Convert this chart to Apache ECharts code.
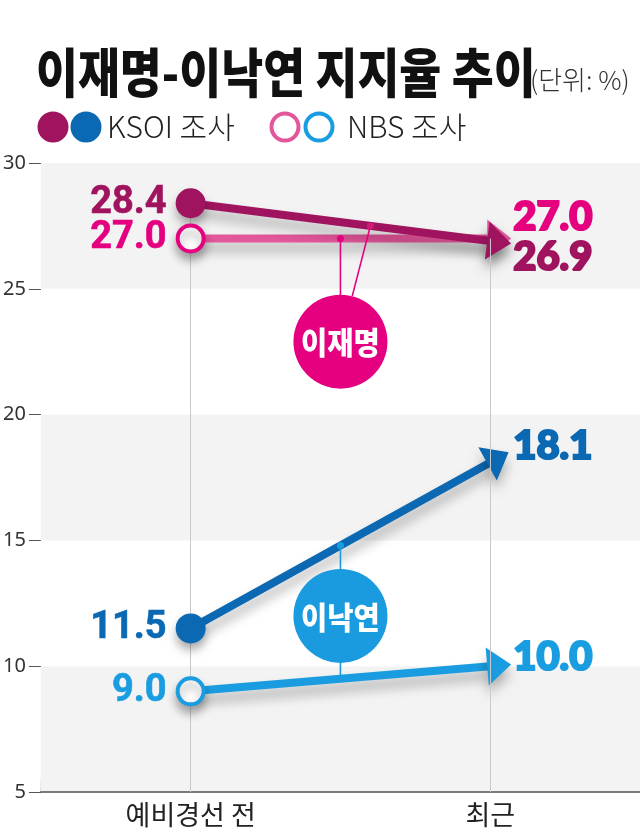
<!DOCTYPE html>
<html>
<head>
<meta charset="utf-8">
<script src="https://cdn.jsdelivr.net/npm/echarts@6/dist/echarts.min.js"></script>
<style>
html,body{margin:0;padding:0;background:#fff;}
#chart{width:640px;height:834px;}
</style>
</head>
<body>
<div id="chart"></div>
<script>
// ---- data ----
const categories = ['예비경선 전', '최근'];
const leeJM_KSOI = [28.4, 26.9];
const leeJM_NBS = [27.0, 27.0];
const leeNY_KSOI = [11.5, 18.1];
const leeNY_NBS = [9.0, 10.0];
const yTicks = [5, 10, 15, 20, 25, 30];
const candidateNames = ['이재명', '이낙연'];
const titleText = '이재명-이낙연 지지율 추이';
const unitText = '(단위: %)';
const legendNames = ['KSOI 조사', 'NBS 조사'];

// ---- styles ----
const C = {
  jmK: '#a0135f', jmN: '#e4007f', jmNLine: '#e2569a',
  nyK: '#0b68b3', nyN: '#1a9de0',
  bubbleJM: '#e4007f', bubbleNY: '#1a9be0'
};
const CJK = '"Noto Sans CJK KR", "Noto Sans", sans-serif';

const chart = echarts.init(document.getElementById('chart'), null, {renderer: 'canvas'});

const shadow = {shadowColor: 'rgba(0,0,0,0.28)', shadowBlur: 12, shadowOffsetY: 9};

function arrowSeries(name, arr, color, width) {
  return {
    type: 'custom', name: name, z: 3,
    coordinateSystem: 'cartesian2d',
    encode: {x: [0, 2], y: [1, 3]},
    data: [[0, arr[0], 1, arr[1]]],
    renderItem: function (params, api) {
      const p0 = api.coord([api.value(0), api.value(1)]);
      const p1 = api.coord([api.value(2), api.value(3)]);
      const dx = p1[0] - p0[0], dy = p1[1] - p0[1];
      const L = Math.sqrt(dx * dx + dy * dy);
      const ux = dx / L, uy = dy / L, nx = -uy, ny = ux;
      const tipLen = 21, half = 19;
      const tip = [p1[0] + ux * tipLen, p1[1] + uy * tipLen];
      const b1 = [p1[0] - ux * 3 + nx * half, p1[1] - uy * 3 + ny * half];
      const b2 = [p1[0] - ux * 3 - nx * half, p1[1] - uy * 3 - ny * half];
      return {
        type: 'group',
        children: [
          {type: 'line', shape: {x1: p0[0], y1: p0[1], x2: p1[0], y2: p1[1]},
           style: Object.assign({stroke: color, lineWidth: width}, shadow)},
          {type: 'polygon', shape: {points: [tip, b1, b2]},
           style: Object.assign({fill: color}, shadow)}
        ]
      };
    }
  };
}

function startSeries(name, arr, color, filled) {
  return {
    type: 'scatter', name: name, z: 5,
    data: [[0, arr[0]]],
    symbol: 'circle',
    symbolSize: filled ? 30 : 26,
    itemStyle: {
      opacity: 1,
      color: filled ? color : '#ffffff',
      borderColor: color, borderWidth: filled ? 0 : 4,
      shadowColor: 'rgba(0,0,0,0.3)', shadowBlur: 10, shadowOffsetY: 7
    },
    label: {
      show: true, position: 'left', distance: 9,
      formatter: p => p.value[1].toFixed(1),
      fontFamily: 'Roboto, "Noto Sans", sans-serif', fontWeight: 'bold',
      fontSize: 38, color: color, opacity: 1,
      textBorderColor: color, textBorderWidth: 0.6
    }
  };
}

function endSeries(name, arr, color, offY, extra) {
  return Object.assign({
    type: 'scatter', name: name, z: 1,
    data: [[1, arr[1]]],
    symbolSize: 0,
    itemStyle: {opacity: 1},
    label: {
      show: true, position: 'right', distance: 23, offset: [0, offY],
      formatter: p => p.value[1].toFixed(1),
      fontFamily: 'Lato, "DejaVu Sans", sans-serif', fontWeight: 900,
      fontSize: 40, color: color, opacity: 1,
      textBorderColor: color, textBorderWidth: 2.2
    }
  }, extra || {});
}

const startTop = Math.max(leeJM_KSOI[0], leeJM_NBS[0], leeNY_KSOI[0], leeNY_NBS[0]);
const endTop = Math.max(leeJM_KSOI[1], leeJM_NBS[1], leeNY_KSOI[1], leeNY_NBS[1]);

const annotationSeries = {
  type: 'custom', z: 4,
  coordinateSystem: 'cartesian2d',
  data: [[0, 0]],
  renderItem: function (params, api) {
    const lerp = (arr, t) => {
      const a = api.coord([0, arr[0]]), b = api.coord([1, arr[1]]);
      return [a[0] + (b[0] - a[0]) * t, a[1] + (b[1] - a[1]) * t];
    };
    const mid = lerp(leeJM_NBS, 0.5);
    const xm = mid[0];
    const R = 47;
    const cJM = [xm, api.coord([0, 22.9])[1]];
    const jmNpt = lerp(leeJM_NBS, 0.5);
    const jmKpt = lerp(leeJM_KSOI, 0.6);
    const vx = jmKpt[0] - cJM[0], vy = jmKpt[1] - cJM[1], vl = Math.sqrt(vx * vx + vy * vy);
    const edge = [cJM[0] + vx / vl * R, cJM[1] + vy / vl * R];
    const cNY = [xm, api.coord([0, 12.0])[1]];
    const nyKpt = lerp(leeNY_KSOI, 0.5);
    const nyNpt = lerp(leeNY_NBS, 0.5);
    const textEl = (t, c) => ({type: 'text', x: c[0], y: c[1] + 1, scaleX: 0.92,
      style: {text: t, fill: '#fff', fontFamily: CJK, fontWeight: 900, fontSize: 31,
              textAlign: 'center', textVerticalAlign: 'middle'}});
    return {
      type: 'group',
      children: [
        {type: 'line', shape: {x1: xm, y1: jmNpt[1], x2: xm, y2: cJM[1]}, style: {stroke: C.bubbleJM, lineWidth: 1.6}},
        {type: 'line', shape: {x1: edge[0], y1: edge[1], x2: jmKpt[0], y2: jmKpt[1]}, style: {stroke: C.bubbleJM, lineWidth: 1.6}},
        {type: 'circle', shape: {cx: jmNpt[0], cy: jmNpt[1], r: 3.5}, style: {fill: C.bubbleJM}},
        {type: 'circle', shape: {cx: jmKpt[0], cy: jmKpt[1], r: 3.5}, style: {fill: '#d11a78'}},
        {type: 'circle', shape: {cx: cJM[0], cy: cJM[1], r: R}, style: {fill: C.bubbleJM}},
        textEl(candidateNames[0], cJM),
        {type: 'line', shape: {x1: xm, y1: nyKpt[1], x2: xm, y2: nyNpt[1]}, style: {stroke: C.bubbleNY, lineWidth: 1.6}},
        {type: 'circle', shape: {cx: nyKpt[0], cy: nyKpt[1], r: 3.5}, style: {fill: C.bubbleNY}},
        {type: 'circle', shape: {cx: cNY[0], cy: cNY[1], r: R}, style: {fill: C.bubbleNY}},
        textEl(candidateNames[1], cNY)
      ]
    };
  }
};

const option = {
  animation: false,
  backgroundColor: '#ffffff',
  grid: {left: 40, right: 0, top: 163, bottom: 42},
  xAxis: {
    type: 'category', data: categories, boundaryGap: true,
    axisLine: {show: true, lineStyle: {color: '#7a7a7a', width: 2}},
    axisTick: {show: false},
    splitLine: {show: false},
    axisLabel: {fontFamily: CJK, fontSize: 27, color: '#222', margin: 9}
  },
  yAxis: {
    type: 'value', min: yTicks[0], max: yTicks[yTicks.length - 1], interval: yTicks[1] - yTicks[0],
    axisLine: {show: false},
    axisTick: {show: true, length: 12, lineStyle: {color: '#555', width: 1}},
    splitLine: {show: false},
    splitArea: {show: true, areaStyle: {color: ['#f3f3f3', '#ffffff']}},
    axisLabel: {fontFamily: '"Noto Sans", sans-serif', fontSize: 20, color: '#333', margin: 15,
                padding: [0, 0, 6, 0]}
  },
  graphic: [
    {type: 'rect', x: 40, y: 774, z: 0, silent: true,
     shape: {width: 600, height: 17},
     style: {fill: new echarts.graphic.LinearGradient(0, 0, 0, 1, [
       {offset: 0, color: 'rgba(0,0,0,0)'}, {offset: 1, color: 'rgba(0,0,0,0.13)'}])}},
    {type: 'text', x: 36, y: 73, scaleX: 0.86,
     style: {text: titleText, fontFamily: CJK, fontWeight: 900, fontSize: 53, fill: '#111',
             textVerticalAlign: 'middle'}},
    {type: 'text', x: 530, y: 80,
     style: {text: unitText, fontFamily: CJK, fontWeight: 300, fontSize: 26, fill: '#333',
             textVerticalAlign: 'middle'}},
    {type: 'circle', shape: {cx: 53, cy: 127, r: 15.5}, style: {fill: C.jmK}},
    {type: 'circle', shape: {cx: 86, cy: 127, r: 15.5}, style: {fill: C.nyK}},
    {type: 'text', x: 107, y: 127,
     style: {text: legendNames[0], fontFamily: CJK, fontWeight: 300, fontSize: 30, fill: '#222',
             textVerticalAlign: 'middle'}},
    {type: 'circle', shape: {cx: 285, cy: 127, r: 13.5}, style: {fill: '#fff', stroke: C.jmNLine, lineWidth: 4}},
    {type: 'circle', shape: {cx: 319, cy: 127, r: 13.5}, style: {fill: '#fff', stroke: C.nyN, lineWidth: 4}},
    {type: 'text', x: 347, y: 127,
     style: {text: legendNames[1], fontFamily: CJK, fontWeight: 300, fontSize: 30, fill: '#222',
             textVerticalAlign: 'middle'}}
  ],
  series: [
    endSeries('jmN_end', leeJM_NBS, C.jmN, -21, {
      markLine: {
        silent: true, symbol: ['none', 'none'], label: {show: false},
        lineStyle: {color: '#c9c9c9', width: 1, type: 'solid'},
        data: [
          [{coord: [0, startTop]}, {coord: [0, yTicks[0]]}],
          [{coord: [1, endTop]}, {coord: [1, yTicks[0]]}]
        ]
      }
    }),
    endSeries('jmK_end', leeJM_KSOI, C.jmK, 16),
    endSeries('nyK_end', leeNY_KSOI, C.nyK, -16),
    endSeries('nyN_end', leeNY_NBS, C.nyN, -9),
    arrowSeries('jmN', leeJM_NBS, C.jmNLine, 8),
    arrowSeries('jmK', leeJM_KSOI, C.jmK, 8),
    arrowSeries('nyN', leeNY_NBS, C.nyN, 8),
    arrowSeries('nyK', leeNY_KSOI, C.nyK, 8),
    annotationSeries,
    startSeries('jmK_start', leeJM_KSOI, C.jmK, true),
    startSeries('jmN_start', leeJM_NBS, C.jmN, false),
    startSeries('nyK_start', leeNY_KSOI, C.nyK, true),
    startSeries('nyN_start', leeNY_NBS, C.nyN, false)
  ]
};
chart.setOption(option);
</script>
</body>
</html>
